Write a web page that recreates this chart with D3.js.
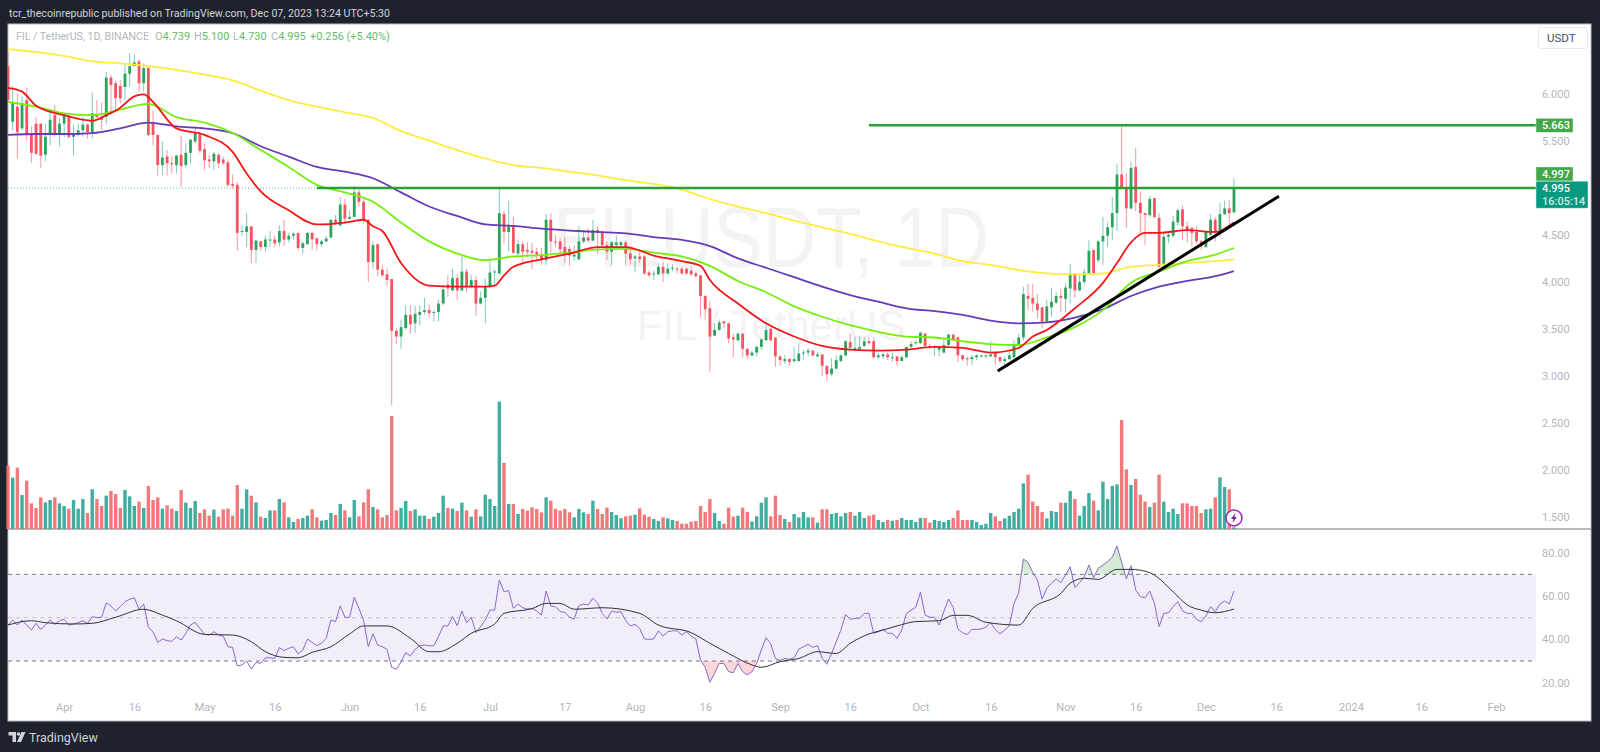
<!DOCTYPE html>
<html>
<head>
<meta charset="utf-8">
<title>FIL / TetherUS</title>
<script src="https://cdn.jsdelivr.net/npm/d3@7"></script>
<style>
  html, body { margin: 0; padding: 0; background: #1e222d; overflow: hidden; }
  svg { display: block; font-family: Roboto, "Liberation Sans", sans-serif; }
</style>
</head>
<body>
<div id="chart"></div>
<script>
// Daily candles, first one is 20 Mar 2023, last one 7 Dec 2023
const firstDay = new Date(Date.UTC(2023, 2, 20));

const opens = [
  6.29,5.70,5.86,5.63,5.93,5.56,5.68,5.68,5.35,5.56,
  5.77,5.56,5.68,5.75,5.54,5.56,5.61,5.67,5.59,5.77,
  5.75,5.75,6.17,6.11,6.08,6.07,6.21,6.29,6.34,6.11,
  6.27,5.68,5.56,5.24,5.33,5.26,5.24,5.35,5.24,5.37,
  5.49,5.58,5.41,5.30,5.28,5.35,5.30,5.27,5.04,5.03,
  4.53,4.53,4.59,4.34,4.43,4.37,4.44,4.45,4.42,4.54,
  4.45,4.49,4.52,4.36,4.40,4.52,4.46,4.40,4.43,4.47,
  4.66,4.60,4.82,4.67,4.69,4.95,4.85,4.66,4.21,4.40,
  4.13,4.08,4.03,3.48,3.42,3.51,3.65,3.56,3.65,3.68,
  3.70,3.68,3.68,3.77,3.97,3.91,4.04,3.91,4.11,3.95,
  4.02,3.77,3.83,3.95,4.10,4.09,4.72,4.53,4.59,4.30,
  4.40,4.34,4.33,4.32,4.29,4.23,4.66,4.43,4.43,4.37,
  4.35,4.27,4.24,4.43,4.47,4.44,4.55,4.53,4.39,4.32,
  4.39,4.39,4.42,4.30,4.25,4.27,4.27,4.10,4.08,4.08,
  4.16,4.09,4.14,4.14,4.14,4.14,4.12,4.09,4.07,3.85,
  3.72,3.43,3.49,3.58,3.56,3.41,3.38,3.45,3.29,3.22,
  3.25,3.31,3.38,3.50,3.41,3.21,3.16,3.18,3.16,3.16,
  3.24,3.25,3.27,3.21,3.23,3.11,3.02,3.08,3.16,3.22,
  3.36,3.29,3.29,3.32,3.37,3.37,3.20,3.21,3.23,3.19,
  3.21,3.16,3.20,3.31,3.35,3.35,3.45,3.32,3.30,3.28,
  3.25,3.33,3.44,3.41,3.22,3.19,3.18,3.20,3.21,3.21,
  3.21,3.25,3.20,3.16,3.18,3.20,3.33,3.41,3.85,3.83,
  3.77,3.73,3.58,3.73,3.78,3.85,3.82,3.93,4.09,3.91,
  4.00,4.09,4.34,4.23,4.43,4.49,4.58,4.73,5.14,5.00,
  4.78,5.22,4.84,4.73,4.71,4.89,4.68,4.18,4.48,4.49,
  4.63,4.77,4.59,4.57,4.53,4.43,4.37,4.50,4.66,4.55,
  4.72,4.78,4.739
];
const highs = [
  6.44,6.08,6.00,5.97,6.06,5.65,5.75,5.68,5.68,5.81,
  5.88,5.74,5.79,5.79,5.67,5.68,5.75,5.68,6.01,5.93,
  5.90,6.23,6.20,6.14,6.14,6.32,6.43,6.41,6.36,6.32,
  6.30,5.82,5.56,5.49,5.40,5.33,5.35,5.55,5.47,5.51,
  5.65,5.58,5.47,5.35,5.38,5.37,5.33,5.30,5.14,5.06,
  4.60,4.73,4.59,4.44,4.43,4.49,4.54,4.49,4.60,4.66,
  4.52,4.53,4.52,4.43,4.53,4.53,4.48,4.45,4.49,4.66,
  4.71,4.90,4.88,4.76,5.02,4.98,4.90,4.66,4.43,4.40,
  4.18,4.14,4.03,3.51,3.60,3.75,3.75,3.75,3.75,3.83,
  3.76,3.70,3.81,3.97,4.07,4.14,4.08,4.27,4.14,4.07,
  4.06,3.90,4.04,4.22,4.13,5.00,4.76,4.86,4.69,4.45,
  4.43,4.42,4.41,4.36,4.36,4.72,4.73,4.50,4.46,4.48,
  4.38,4.39,4.59,4.55,4.57,4.66,4.59,4.55,4.43,4.43,
  4.49,4.44,4.44,4.34,4.29,4.33,4.29,4.13,4.12,4.20,
  4.21,4.20,4.19,4.16,4.16,4.15,4.16,4.11,4.07,3.86,
  3.79,3.56,3.60,3.59,3.57,3.45,3.47,3.46,3.29,3.27,
  3.32,3.40,3.58,3.51,3.41,3.22,3.22,3.19,3.31,3.35,
  3.28,3.30,3.28,3.26,3.23,3.11,3.19,3.22,3.23,3.38,
  3.45,3.42,3.43,3.41,3.41,3.41,3.25,3.25,3.25,3.25,
  3.21,3.22,3.31,3.37,3.38,3.47,3.46,3.34,3.33,3.32,
  3.40,3.45,3.45,3.42,3.23,3.21,3.22,3.23,3.22,3.23,
  3.37,3.25,3.21,3.21,3.28,3.38,3.45,3.95,3.98,3.98,
  3.87,3.73,3.81,3.94,3.89,3.93,3.99,4.19,4.09,4.09,
  4.14,4.44,4.34,4.44,4.69,4.64,4.90,5.25,5.663,5.15,
  5.28,5.42,4.96,4.73,4.91,4.89,4.73,4.52,4.53,4.70,
  4.78,4.81,4.64,4.59,4.59,4.445,4.54,4.72,4.69,4.84,
  4.86,4.87,5.10
];
const lows = [
  5.91,5.61,5.31,5.61,5.51,5.26,5.35,5.21,5.28,5.45,
  5.54,5.44,5.54,5.52,5.34,5.54,5.54,5.52,5.52,5.74,
  5.61,5.67,5.77,5.81,5.90,5.93,6.07,6.29,6.02,6.02,
  5.55,5.45,5.13,5.13,5.13,5.15,5.15,5.01,5.22,5.26,
  5.47,5.37,5.19,5.21,5.19,5.21,5.24,5.01,4.99,4.33,
  4.49,4.37,4.20,4.20,4.33,4.32,4.37,4.37,4.38,4.38,
  4.42,4.45,4.33,4.30,4.39,4.34,4.33,4.37,4.42,4.47,
  4.60,4.59,4.62,4.66,4.69,4.80,4.62,4.00,4.14,4.06,
  4.06,3.96,2.69,3.34,3.29,3.49,3.45,3.46,3.54,3.65,
  3.62,3.58,3.58,3.75,3.84,3.90,3.81,3.90,3.89,3.93,
  3.64,3.76,3.56,3.93,3.95,4.07,4.41,4.32,4.30,4.26,
  4.21,4.27,4.14,4.23,4.18,4.18,4.30,4.37,4.30,4.20,
  4.17,4.23,4.23,4.41,4.43,4.43,4.30,4.37,4.23,4.18,
  4.37,4.37,4.18,4.18,4.10,4.20,4.07,4.05,4.02,4.07,
  4.00,4.07,4.11,4.09,4.08,4.07,4.06,4.05,3.62,3.60,
  3.04,3.42,3.48,3.51,3.35,3.20,3.37,3.20,3.18,3.21,
  3.21,3.28,3.38,3.37,3.10,3.11,3.13,3.11,3.14,3.15,
  3.17,3.21,3.21,3.20,3.00,2.95,3.00,3.07,3.15,3.21,
  3.28,3.26,3.28,3.31,3.33,3.19,3.18,3.18,3.17,3.15,
  3.11,3.16,3.19,3.30,3.33,3.34,3.31,3.28,3.21,3.21,
  3.24,3.32,3.37,3.15,3.16,3.11,3.12,3.17,3.19,3.19,
  3.20,3.12,3.14,3.12,3.17,3.19,3.32,3.38,3.70,3.68,
  3.61,3.51,3.58,3.63,3.76,3.68,3.68,3.77,3.83,3.90,
  3.97,4.07,4.07,4.21,4.18,4.37,4.45,4.54,4.99,4.57,
  4.77,4.75,4.52,4.39,4.69,4.675,4.155,4.17,4.41,4.47,
  4.60,4.44,4.42,4.37,4.41,4.34,4.36,4.49,4.43,4.48,
  4.71,4.60,4.73
];
const closes = [
  5.93,5.91,5.59,5.90,5.56,5.37,5.36,5.34,5.54,5.72,
  5.56,5.68,5.77,5.54,5.58,5.61,5.67,5.59,5.79,5.75,
  5.72,6.17,6.09,5.95,5.95,6.21,6.29,6.33,6.11,6.27,
  5.56,5.56,5.24,5.32,5.26,5.25,5.34,5.23,5.37,5.51,
  5.58,5.39,5.29,5.28,5.36,5.26,5.26,5.03,5.02,4.52,
  4.54,4.59,4.34,4.44,4.37,4.45,4.45,4.41,4.54,4.45,
  4.49,4.51,4.36,4.41,4.52,4.45,4.40,4.43,4.46,4.66,
  4.62,4.82,4.67,4.69,4.95,4.85,4.66,4.21,4.39,4.13,
  4.07,4.02,3.48,3.42,3.52,3.65,3.55,3.66,3.68,3.70,
  3.67,3.68,3.77,3.92,3.93,4.04,3.91,4.11,3.95,4.02,
  3.77,3.83,3.95,4.10,4.11,4.73,4.53,4.59,4.31,4.40,
  4.32,4.32,4.31,4.29,4.23,4.66,4.43,4.42,4.35,4.30,
  4.28,4.29,4.43,4.47,4.44,4.55,4.52,4.39,4.32,4.42,
  4.42,4.42,4.30,4.24,4.27,4.24,4.09,4.07,4.09,4.16,
  4.09,4.14,4.15,4.13,4.09,4.09,4.08,4.06,3.85,3.71,
  3.42,3.49,3.57,3.56,3.40,3.39,3.45,3.29,3.22,3.25,
  3.31,3.39,3.49,3.38,3.21,3.17,3.18,3.15,3.18,3.24,
  3.25,3.27,3.22,3.23,3.11,3.02,3.08,3.17,3.22,3.37,
  3.30,3.30,3.31,3.37,3.35,3.20,3.22,3.23,3.20,3.20,
  3.16,3.20,3.31,3.34,3.36,3.46,3.32,3.31,3.31,3.31,
  3.33,3.44,3.39,3.22,3.18,3.18,3.20,3.22,3.22,3.22,
  3.23,3.20,3.16,3.18,3.22,3.33,3.41,3.87,3.82,3.77,
  3.70,3.58,3.74,3.79,3.85,3.83,3.94,4.09,3.91,4.00,
  4.10,4.33,4.09,4.43,4.49,4.58,4.73,5.14,5.00,4.78,
  5.21,4.84,4.73,4.71,4.88,4.69,4.16,4.48,4.50,4.64,
  4.76,4.59,4.55,4.52,4.43,4.38,4.53,4.66,4.52,4.72,
  4.78,4.73,4.995
];

// Volume, relative units only (the picture shows no volume axis)
const volumes = [
  190,154,184,102,145,77,63,95,80,87,
  95,77,69,61,87,61,90,48,119,90,
  69,100,114,105,63,117,98,69,82,63,
  129,87,95,61,71,61,54,117,79,63,
  84,48,59,40,58,37,59,61,40,132,
  61,119,100,80,37,33,56,56,90,80,
  35,21,30,33,40,59,35,25,27,48,
  42,75,56,35,87,38,80,119,66,59,
  35,42,339,56,63,84,54,59,40,40,
  30,37,48,100,63,61,54,79,56,37,
  59,38,103,90,69,382,198,75,75,45,
  60,55,65,60,50,95,85,60,55,60,
  50,35,60,50,45,85,60,45,64,51,
  42,32,38,40,43,62,43,37,30,24,
  35,32,27,24,16,16,22,24,69,51,
  90,48,24,16,64,37,40,64,51,22,
  38,79,95,38,100,42,30,21,45,35,
  51,35,35,19,59,59,45,48,38,48,
  51,40,51,33,40,43,27,21,27,25,
  27,33,27,27,21,33,33,19,27,24,
  21,27,33,56,27,27,27,21,12,16,
  48,38,24,32,40,51,61,137,163,82,
  69,51,32,54,51,79,79,114,90,40,
  69,108,85,56,142,90,129,134,327,179,
  132,150,103,82,66,79,163,82,51,61,
  45,77,77,69,69,48,59,61,95,155,
  126,119,5
];

// RSI, one value per candle
const rsi = [
  46.6,48.9,46.6,48.9,46.6,44.3,47.4,44.6,46.6,48.9,
  46.9,48.6,49.2,46.6,47.1,47.7,48.6,47.4,50.5,50.0,
  50.2,56.9,55.4,53.1,55.1,57.4,58.5,59.2,53.9,56.3,
  45.6,43.5,38.6,40.2,39.4,39.1,41.2,39.7,42.8,46.6,
  47.9,45.1,42.3,42.0,43.5,42.0,41.5,36.6,36.3,27.7,
  28.2,30.0,26.3,29.4,28.9,31.5,31.5,31.2,36.2,34.8,
  35.9,36.6,33.2,35.1,40.2,38.6,37.1,38.2,40.5,48.9,
  48.2,55.5,50.2,50.2,59.4,54.3,48.6,36.6,42.5,37.4,
  36.6,35.4,27.1,26.2,29.7,33.9,32.3,35.4,37.1,37.4,
  37.0,37.1,41.2,46.2,46.2,50.5,46.3,53.1,47.7,50.2,
  43.1,45.9,48.9,53.5,53.5,67.4,62.0,62.5,54.3,56.3,
  54.6,54.0,54.3,53.1,51.2,62.3,55.4,55.1,52.8,52.5,
  50.2,49.4,55.5,56.3,55.9,59.0,56.9,52.0,49.4,53.1,
  52.5,52.8,48.6,46.2,46.9,45.1,40.2,40.0,40.2,43.9,
  41.5,43.5,44.0,43.9,42.0,43.5,41.5,40.2,30.5,27.1,
  20.2,24.3,28.9,28.9,25.1,24.6,28.9,25.1,23.6,25.1,
  28.9,35.1,40.8,37.9,31.2,30.2,31.2,30.8,31.5,35.5,
  36.6,37.7,36.3,37.1,31.2,28.5,33.5,38.9,44.3,51.5,
  49.2,49.7,49.7,52.0,52.0,42.8,43.5,44.6,42.8,42.8,
  40.5,44.3,52.0,53.5,54.8,61.7,51.2,50.2,50.2,46.6,
  52.8,58.6,54.8,44.8,43.1,42.2,44.6,44.6,44.8,45.6,
  47.7,44.6,42.5,44.3,46.3,56.6,61.5,77.1,75.5,70.9,
  67.4,58.6,63.6,65.9,67.9,66.2,69.7,73.5,63.9,66.2,
  68.9,74.3,68.5,72.8,74.3,75.9,77.9,83.1,75.5,67.9,
  74.0,62.8,59.7,59.2,62.3,56.6,45.9,52.0,52.3,55.1,
  57.4,53.1,52.0,52.0,49.2,48.2,50.8,55.1,52.8,56.3,
  57.7,56.3,62.3
];

// RSI moving average, read at the turning points of the black line
const rsiMaDays = [0,5,8,14,18,23,29,33,36,42,48,52,55,59,62,65,69,73,76,81,86,90,92,96,99,104,106,112,115,118,121,127,135,139,146,150,154,159,161,165,169,173,177,180,184,187,190,194,199,202,205,209,216,219,225,227,230,233,237,240,244,249,252,255,258,262];
const rsiMa = [46.6,48.6,47.7,47.1,47.4,50.2,53.9,51.2,48.6,42.3,42.0,38.9,34.3,31.7,31.5,34.0,36.6,42.5,46.2,46.2,40.5,34.3,34.3,38.2,42.8,47.1,52.0,54.2,56.6,56.6,53.9,54.6,52.0,46.6,43.1,38.2,33.5,28.2,27.1,29.7,31.2,34.3,33.5,38.2,42.5,44.3,46.2,48.2,48.6,51.1,51.1,47.9,46.6,54.3,61.2,65.9,68.2,67.7,72.3,72.3,70.8,62.0,55.9,53.5,52.3,54.0];

// EMAs, sampled every 6 candles (the 20 one a bit denser because it bends more)
const emaDays = [0,6,12,18,24,30,36,42,48,54,60,66,72,78,84,90,96,102,108,114,120,126,132,138,144,150,156,162,168,174,180,186,192,198,204,210,216,222,228,234,240,246,252,258,262];
const ema50 = [5.91,5.86,5.79,5.77,5.83,5.89,5.75,5.69,5.58,5.40,5.22,5.03,4.95,4.85,4.63,4.43,4.30,4.23,4.27,4.285,4.31,4.345,4.35,4.31,4.27,4.17,4.01,3.89,3.74,3.63,3.54,3.47,3.42,3.41,3.37,3.34,3.33,3.41,3.52,3.70,3.99,4.11,4.22,4.29,4.36];
const ema100 = [5.56,5.57,5.57,5.58,5.63,5.69,5.65,5.63,5.58,5.44,5.33,5.22,5.17,5.10,4.95,4.80,4.70,4.61,4.595,4.565,4.545,4.53,4.515,4.475,4.445,4.38,4.25,4.15,4.05,3.95,3.86,3.79,3.72,3.69,3.65,3.59,3.56,3.57,3.62,3.71,3.85,3.95,4.01,4.06,4.115];
const ema200 = [6.47,6.44,6.40,6.34,6.32,6.29,6.25,6.20,6.14,6.03,5.93,5.86,5.80,5.74,5.60,5.50,5.40,5.31,5.24,5.21,5.17,5.13,5.08,5.04,4.98,4.88,4.80,4.73,4.65,4.58,4.51,4.43,4.36,4.30,4.22,4.18,4.125,4.09,4.08,4.09,4.16,4.18,4.20,4.22,4.24];
const ema20Days = [0,3,6,12,18,21,24,27,29,31,36,42,48,51,54,60,66,72,76,78,80,84,90,96,102,104,106,108,114,120,126,132,138,144,148,150,156,162,168,174,180,186,192,198,204,210,216,219,222,228,234,237,240,243,246,252,258,262];
const ema20 = [6.06,6.02,5.87,5.77,5.71,5.77,5.85,5.97,5.99,5.91,5.63,5.56,5.38,5.15,4.96,4.76,4.61,4.63,4.66,4.59,4.54,4.20,3.96,3.95,3.95,3.96,4.07,4.16,4.24,4.30,4.37,4.37,4.28,4.22,4.17,4.02,3.77,3.56,3.42,3.32,3.28,3.27,3.28,3.31,3.30,3.25,3.30,3.42,3.49,3.72,3.99,4.20,4.42,4.52,4.52,4.55,4.53,4.63];

// Drawn levels: [first candle, price]
const levelHigh = { day: 184, price: 5.663 };
const levelMid = { day: 66, price: 4.997 };
const lastPrice = 4.995;
// Trend line, day and price at both ends
const trendDays = [211.5, 271.6];
const trendPrices = [3.054, 4.91];
// The oversold shading only shows from this candle on
const oversoldFrom = 146;

const priceTicks = [6, 5.5, 5, 4.5, 4, 3.5, 3, 2.5, 2, 1.5];
const rsiTicks = [80, 60, 40, 20];
const timeTicks = [[2023,3,1],[2023,3,16],[2023,4,1],[2023,4,16],[2023,5,1],[2023,5,16],[2023,6,1],[2023,6,17],[2023,7,1],[2023,7,16],[2023,8,1],[2023,8,16],[2023,9,1],[2023,9,16],[2023,10,1],[2023,10,16],[2023,11,1],[2023,11,16],[2024,0,1],[2024,0,16],[2024,1,1]];
const timeLabels = ["Apr","16","May","16","Jun","16","Jul","17","Aug","16","Sep","16","Oct","16","Nov","16","Dec","16","2024","16","Feb"];

// Dimensions
const width = 1600, height = 752;
const pane = { left: 8, right: 1591, top: 24, bottom: 721, split: 529, axis: 1536 };

const dayToDate = i => firstDay.getTime() + i * 864e5;

// Scales
const x = d3.scaleUtc()
  .domain([firstDay, new Date(Date.UTC(2024, 1, 1))])
  .range([8, 1496]);
const xDay = i => x(dayToDate(i));
const yPrice = d3.scaleLinear().domain([1.5, 6]).range([517.4, 93.5]);
const yVolume = d3.scaleLinear().domain([0, 600]).range([pane.split, pane.split - 200]);
const yRsi = d3.scaleLinear().domain([20, 80]).range([682.7, 552.7]);

const svg = d3.select("#chart").append("svg")
  .attr("width", width).attr("height", height)
  .attr("viewBox", [0, 0, width, height]);

const defs = svg.append("defs");
defs.append("clipPath").attr("id", "priceClip").append("rect")
  .attr("x", pane.left).attr("y", pane.top)
  .attr("width", pane.axis - pane.left).attr("height", pane.split - pane.top);
defs.append("clipPath").attr("id", "aboveClip").append("rect")
  .attr("x", pane.left).attr("y", pane.split)
  .attr("width", pane.axis - pane.left).attr("height", yRsi(70) - pane.split);
defs.append("clipPath").attr("id", "belowClip").append("rect")
  .attr("x", xDay(oversoldFrom)).attr("y", yRsi(30))
  .attr("width", pane.axis - xDay(oversoldFrom)).attr("height", pane.bottom - yRsi(30));
const gradUp = defs.append("linearGradient").attr("id", "gradUp").attr("x1", 0).attr("x2", 0).attr("y1", 0).attr("y2", 1);
gradUp.append("stop").attr("offset", "0").attr("stop-color", "#4caf50").attr("stop-opacity", 0.28);
gradUp.append("stop").attr("offset", "1").attr("stop-color", "#4caf50").attr("stop-opacity", 0.03);
const gradDown = defs.append("linearGradient").attr("id", "gradDown").attr("x1", 0).attr("x2", 0).attr("y1", 0).attr("y2", 1);
gradDown.append("stop").attr("offset", "0").attr("stop-color", "#f23645").attr("stop-opacity", 0.03);
gradDown.append("stop").attr("offset", "1").attr("stop-color", "#f23645").attr("stop-opacity", 0.22);

// Page and panes
svg.append("rect").attr("width", width).attr("height", height).attr("fill", "#1e222d");
svg.append("rect")
  .attr("x", pane.left).attr("y", pane.top)
  .attr("width", pane.right - pane.left).attr("height", pane.bottom - pane.top)
  .attr("fill", "#fff").attr("stroke", "#b8bac2");
svg.append("line")
  .attr("x1", pane.left).attr("x2", pane.right)
  .attr("y1", pane.split).attr("y2", pane.split)
  .attr("stroke", "#b8b8bc").attr("stroke-width", 2);

// Header
svg.append("text").attr("x", 9).attr("y", 17)
  .attr("fill", "#d1d4dc").attr("font-size", 11.5)
  .attr("textLength", 381).attr("lengthAdjust", "spacingAndGlyphs")
  .text("tcr_thecoinrepublic published on TradingView.com, Dec 07, 2023 13:24 UTC+5:30");

// Watermarks
svg.append("text").attr("x", 771).attr("y", 267).attr("text-anchor", "middle")
  .attr("font-family", "Liberation Sans").attr("font-size", 86).attr("fill", "#f3f3f5")
  .attr("textLength", 436).attr("lengthAdjust", "spacingAndGlyphs")
  .text("FILUSDT, 1D");
svg.append("text").attr("x", 771).attr("y", 340).attr("text-anchor", "middle")
  .attr("font-family", "Liberation Sans").attr("font-size", 42).attr("fill", "#f3f3f5")
  .text("FIL / TetherUS");

// Legend
const legendGrey = "#b2b5be", legendGreen = "#66bb6a";
svg.append("text").attr("x", 16).attr("y", 40).attr("fill", legendGrey).attr("font-size", 11)
  .attr("textLength", 133).attr("lengthAdjust", "spacingAndGlyphs")
  .text("FIL / TetherUS, 1D, BINANCE");
const legendParts = [["O", "4.739", 155], ["H", "5.100", 194], ["L", "4.730", 233], ["C", "4.995", 271]];
legendParts.forEach(([k, v, px]) => {
  const t = svg.append("text").attr("x", px).attr("y", 40).attr("font-size", 11);
  t.append("tspan").attr("fill", legendGrey).text(k);
  t.append("tspan").attr("fill", legendGreen).text(v);
});
svg.append("text").attr("x", 310).attr("y", 40).attr("fill", legendGreen).attr("font-size", 11)
  .text("+0.256 (+5.40%)");

const isUp = i => closes[i] >= opens[i];
const upBody = "#2ba35d", upWick = "#26a69a", downBody = "#f7525f";

// Volume
svg.append("g").selectAll("rect")
  .data(volumes)
  .join("rect")
  .attr("x", (d, i) => xDay(i) - 1.7)
  .attr("width", 3.4)
  .attr("y", d => yVolume(d))
  .attr("height", d => yVolume(0) - yVolume(d))
  .attr("fill", (d, i) => isUp(i) ? "#2fa797" : "#f26d70")
  .attr("fill-opacity", 0.92);

// Candles
const candles = svg.append("g").attr("clip-path", "url(#priceClip)");
candles.selectAll("line")
  .data(opens)
  .join("line")
  .attr("x1", (d, i) => xDay(i)).attr("x2", (d, i) => xDay(i))
  .attr("y1", (d, i) => yPrice(highs[i]))
  .attr("y2", (d, i) => yPrice(lows[i]))
  .attr("stroke", (d, i) => isUp(i) ? upWick : downBody)
  .attr("stroke-opacity", 0.6);
candles.selectAll("rect")
  .data(opens)
  .join("rect")
  .attr("x", (d, i) => xDay(i) - 1.4)
  .attr("width", 2.8)
  .attr("y", (d, i) => yPrice(Math.max(d, closes[i])))
  .attr("height", (d, i) => Math.max(1, Math.abs(yPrice(d) - yPrice(closes[i]))))
  .attr("fill", (d, i) => isUp(i) ? upBody : downBody);

// EMAs
const emaLine = d3.line()
  .x(d => xDay(d[0]))
  .y(d => yPrice(d[1]))
  .curve(d3.curveMonotoneX);
const emas = [
  [emaDays, ema200, "#ffeb3b"],
  [emaDays, ema100, "#673ab7"],
  [emaDays, ema50, "#76ee10"],
  [ema20Days, ema20, "#f01818"]
];
emas.forEach(([days, vals, color]) => {
  svg.append("path")
    .attr("clip-path", "url(#priceClip)")
    .attr("d", emaLine(days.map((d, i) => [d, vals[i]])))
    .attr("fill", "none").attr("stroke", color).attr("stroke-width", 1.8);
});

// Levels and trend line
svg.append("line")
  .attr("x1", pane.left).attr("x2", pane.axis)
  .attr("y1", yPrice(lastPrice)).attr("y2", yPrice(lastPrice))
  .attr("stroke", "#089981").attr("stroke-dasharray", "1,2").attr("stroke-opacity", 0.6);
[levelHigh, levelMid].forEach(l => {
  svg.append("line")
    .attr("x1", xDay(l.day)).attr("x2", pane.axis)
    .attr("y1", yPrice(l.price)).attr("y2", yPrice(l.price))
    .attr("stroke", "#2a9e37").attr("stroke-width", 2.5);
});
svg.append("line")
  .attr("x1", xDay(trendDays[0])).attr("x2", xDay(trendDays[1]))
  .attr("y1", yPrice(trendPrices[0])).attr("y2", yPrice(trendPrices[1]))
  .attr("stroke", "#000").attr("stroke-width", 3);

// Price axis
const tickText = "#b2b5be";
const priceAxis = svg.append("g")
  .attr("transform", `translate(${1541},0)`)
  .call(d3.axisRight(yPrice).tickValues(priceTicks).tickFormat(d3.format(".3f")).tickSize(0).tickPadding(1));
priceAxis.select(".domain").remove();
priceAxis.selectAll("text").attr("fill", tickText).attr("font-size", 11).attr("font-family", "Roboto");

// Price labels on the axis
function axisBox(y0, y1, w, color) {
  svg.append("rect")
    .attr("x", pane.axis).attr("y", y0)
    .attr("width", w).attr("height", y1 - y0)
    .attr("fill", color).attr("stroke", "#d9f0e4").attr("stroke-width", 0.5);
}
axisBox(yPrice(levelHigh.price) - 7, yPrice(levelHigh.price) + 7, 37, "#43a84a");
axisBox(yPrice(levelMid.price) - 21, yPrice(levelMid.price) - 7, 37, "#43a84a");
axisBox(yPrice(lastPrice) - 7, yPrice(lastPrice) + 20, 52, "#089981");
const boxText = (txt, y, fill) => svg.append("text")
  .attr("x", 1542).attr("y", y).attr("dy", "0.35em")
  .attr("fill", fill).attr("font-size", 11).attr("font-weight", 500)
  .text(txt);
boxText(levelHigh.price.toFixed(3), yPrice(levelHigh.price), "#fff");
boxText(levelMid.price.toFixed(3), yPrice(levelMid.price) - 14, "#fff");
boxText(lastPrice.toFixed(3), yPrice(lastPrice), "#fff");
boxText("16:05:14", yPrice(lastPrice) + 13, "#cfeee6");

// USDT button
svg.append("rect").attr("x", 1538.5).attr("y", 27.5).attr("width", 49).attr("height", 21).attr("rx", 3)
  .attr("fill", "#fff").attr("stroke", "#e8e9ee");
svg.append("text").attr("x", 1547).attr("y", 42).attr("fill", "#4a4e5a").attr("font-size", 11.5).text("USDT");

// Volume pane lightning mark
const bolt = svg.append("g").attr("transform", `translate(${xDay(262)},${yPrice(1.5) + 0.5})`);
bolt.append("circle").attr("r", 8).attr("fill", "#fff").attr("stroke", "#9c27b0").attr("stroke-width", 1.5);
bolt.append("path").attr("d", "M1.5,-5 L-3,1 L-0.5,1 L-1.5,5 L3,-1 L0.5,-1 Z").attr("fill", "#7b1fa2");

// RSI band and levels
svg.append("rect")
  .attr("x", pane.left).attr("y", yRsi(70))
  .attr("width", pane.axis - pane.left).attr("height", yRsi(30) - yRsi(70))
  .attr("fill", "#f1edf9");
[[70, "#787b86"], [50, "#c4c5cc"], [30, "#787b86"]].forEach(([lv, c]) => {
  svg.append("line")
    .attr("x1", pane.left).attr("x2", pane.axis)
    .attr("y1", yRsi(lv)).attr("y2", yRsi(lv))
    .attr("stroke", c).attr("stroke-dasharray", "4,4");
});

// RSI shading over 70 and under 30
const rsiArea = lv => d3.area()
  .x((d, i) => xDay(i))
  .y0(yRsi(lv))
  .y1(d => yRsi(d));
svg.append("path").attr("clip-path", "url(#aboveClip)")
  .attr("d", rsiArea(70)(rsi)).attr("fill", "url(#gradUp)");
svg.append("path").attr("clip-path", "url(#belowClip)")
  .attr("d", rsiArea(30)(rsi)).attr("fill", "url(#gradDown)");

// RSI line and its average
svg.append("path")
  .attr("d", d3.line().x((d, i) => xDay(i)).y(d => yRsi(d))(rsi))
  .attr("fill", "none").attr("stroke", "#8a68cc").attr("stroke-width", 1);
svg.append("path")
  .attr("d", d3.line().x(d => xDay(d[0])).y(d => yRsi(d[1])).curve(d3.curveMonotoneX)(rsiMaDays.map((d, i) => [d, rsiMa[i]])))
  .attr("fill", "none").attr("stroke", "#333").attr("stroke-width", 1);

const rsiAxis = svg.append("g")
  .attr("transform", `translate(${1541},0)`)
  .call(d3.axisRight(yRsi).tickValues(rsiTicks).tickFormat(d3.format(".2f")).tickSize(0).tickPadding(1));
rsiAxis.select(".domain").remove();
rsiAxis.selectAll("text").attr("fill", tickText).attr("font-size", 11).attr("font-family", "Roboto");

// Time axis
const timeAxis = svg.append("g")
  .attr("transform", `translate(0,${699})`)
  .call(d3.axisBottom(x)
    .tickValues(timeTicks.map(t => new Date(Date.UTC(t[0], t[1], t[2]))))
    .tickFormat((d, i) => timeLabels[i])
    .tickSize(0).tickPadding(4));
timeAxis.select(".domain").remove();
timeAxis.selectAll("text").attr("fill", tickText).attr("font-size", 11).attr("font-family", "Roboto");

// TradingView mark
const logo = svg.append("g").attr("fill", "#d1d4dc");
logo.append("path").attr("d", "M8.5,732 h7.5 v10 h-3.5 v-6.5 h-4 Z");
logo.append("circle").attr("cx", 18.5).attr("cy", 734).attr("r", 1.8);
logo.append("path").attr("d", "M21.5,732 h4 l-4.5,10 h-4 Z");
svg.append("text").attr("x", 29).attr("y", 741.5).attr("fill", "#d1d4dc").attr("font-size", 12.5)
  .text("TradingView");
</script>
</body>
</html>
